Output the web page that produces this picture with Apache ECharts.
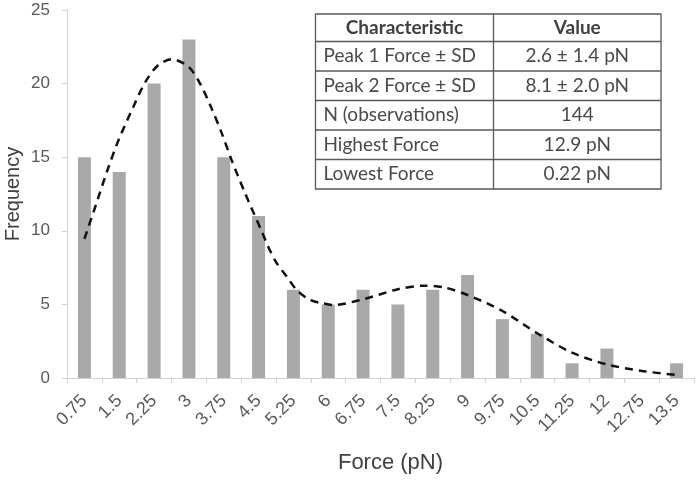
<!DOCTYPE html>
<html>
<head>
<meta charset="utf-8">
<script src="https://cdn.jsdelivr.net/npm/echarts@6/dist/echarts.min.js"></script>
<style>
html,body{margin:0;padding:0;background:#fff;}
#chart{width:697px;height:481px;}
</style>
</head>
<body>
<div id="chart"></div>
<script>
// Histogram categories (force bins, pN)
const categories = ['0.75','1.5','2.25','3','3.75','4.5','5.25','6','6.75','7.5','8.25','9','9.75','10.5','11.25','12','12.75','13.5'];
// Frequencies
const frequencies = [15,14,20,23,15,11,6,5,6,5,6,7,4,3,1,2,0,1];
// Fitted curve: force (pN)
const curveForce = [0.75,0.98,1.26,1.49,1.80,2.06,2.34,2.63,2.99,3.24,3.49,3.71,3.92,4.21,4.57,4.71,4.89,5.11,5.32,5.61,5.89,6.11,6.75,7.5,8.05,8.5,9.0,9.75,10.5,11.25,12.0,12.75,13.5];
// Fitted curve values (frequency)
const curveValue = [9.45,11.6,14.25,16.2,18.4,20.1,21.26,21.65,21.15,20.0,18.3,16.6,14.8,12.55,9.94,8.9,7.8,6.88,5.98,5.3,5.07,4.96,5.35,6.03,6.27,6.15,5.64,4.55,3.04,1.72,0.92,0.48,0.2];
// Table contents
const tableHeader = ['Characteristic','Value'];
const tableLabels = ['Peak 1 Force \u00b1 SD','Peak 2 Force \u00b1 SD','N (observations)','Highest Force','Lowest Force'];
const tableValues = ['2.6 \u00b1 1.4 pN','8.1 \u00b1 2.0 pN','144','12.9 pN','0.22 pN'];

const chart = echarts.init(document.getElementById('chart'), null, {renderer:'canvas'});

// table layout
const tX0 = 315.5, tX1 = 493.5, tX2 = 661;
const tTop = 14, headH = 27.5, rowH = 29.5;
const tBottom = tTop + headH + rowH * tableLabels.length;
const lineColor = '#5a5a5a';
const tableFont = 'Lato, "Open Sans", sans-serif';
const graphics = [];
graphics.push({type:'rect', shape:{x:tX0, y:tTop, width:tX2 - tX0, height:tBottom - tTop},
  style:{fill:'#fff', stroke:lineColor, lineWidth:1.3}, z:10});
graphics.push({type:'line', shape:{x1:tX1, y1:tTop, x2:tX1, y2:tBottom}, style:{stroke:lineColor, lineWidth:1.3}, z:11});
for (let r = 0; r < tableLabels.length; r++) {
  const y = tTop + headH + rowH * r;
  graphics.push({type:'line', shape:{x1:tX0, y1:y, x2:tX2, y2:y}, style:{stroke:lineColor, lineWidth:1.3}, z:11});
}
graphics.push({type:'text', x:(tX0 + tX1) / 2, y:tTop + headH / 2, z:12,
  style:{text:tableHeader[0], font:'bold 19px ' + tableFont, fill:'#404040', align:'center', verticalAlign:'middle'}});
graphics.push({type:'text', x:(tX1 + tX2) / 2, y:tTop + headH / 2, z:12,
  style:{text:tableHeader[1], font:'bold 19px ' + tableFont, fill:'#404040', align:'center', verticalAlign:'middle'}});
for (let r = 0; r < tableLabels.length; r++) {
  const cy = tTop + headH + rowH * (r + 0.5);
  graphics.push({type:'text', x:tX0 + 8, y:cy, z:12,
    style:{text:tableLabels[r], font:'19px ' + tableFont, fill:'#4a4a4a', align:'left', verticalAlign:'middle'}});
  graphics.push({type:'text', x:(tX1 + tX2) / 2, y:cy, z:12,
    style:{text:tableValues[r], font:'19px ' + tableFont, fill:'#4a4a4a', align:'center', verticalAlign:'middle'}});
}

const axisGray = '#d4d4d4';
const labelGray = '#595959';

const option = {
  animation:false,
  backgroundColor:'#fff',
  grid:{left:67, right:3, top:10, bottom:103, containLabel:false, outerBoundsMode:'none'},
  xAxis:[{
    type:'category', data:categories, boundaryGap:true,
    axisLine:{show:true, lineStyle:{color:axisGray, width:1}},
    axisTick:{show:true, length:5, lineStyle:{color:axisGray}},
    axisLabel:{rotate:45, interval:0, fontSize:18, color:labelGray, margin:20, fontFamily:'Liberation Sans, Arial, sans-serif'},
    splitLine:{show:false},
    name:'Force (pN)', nameLocation:'middle', nameGap:74, nameMoveOverlap:false,
    nameTextStyle:{fontSize:22, color:'#404040', fontFamily:'Liberation Sans, Arial, sans-serif', padding:[0,0,0,20]}
  },{
    type:'value', min:0.375, max:13.875, show:false
  }],
  yAxis:{
    type:'value', min:0, max:25, interval:5,
    axisLine:{show:true, lineStyle:{color:axisGray, width:1}},
    axisTick:{show:true, length:5, lineStyle:{color:axisGray}},
    axisLabel:{fontSize:17, color:labelGray, margin:17, fontFamily:'Liberation Sans, Arial, sans-serif'},
    splitLine:{show:false},
    name:'Frequency', nameLocation:'middle', nameGap:44, nameMoveOverlap:false,
    nameTextStyle:{fontSize:20, color:'#404040', fontFamily:'Liberation Sans, Arial, sans-serif', padding:[0,0,0,0]}
  },
  series:[{
    type:'bar', data:frequencies, barWidth:13, xAxisIndex:0,
    itemStyle:{color:'#a9a9a9'}
  },{
    type:'line', xAxisIndex:1, data:curveForce.map((f,i)=>[f, curveValue[i]]),
    smooth:0.3, symbol:'none', z:5,
    lineStyle:{color:'#111', width:2.5, type:[8,6]}
  }],
  graphic:graphics
};
chart.setOption(option);
</script>
</body>
</html>
